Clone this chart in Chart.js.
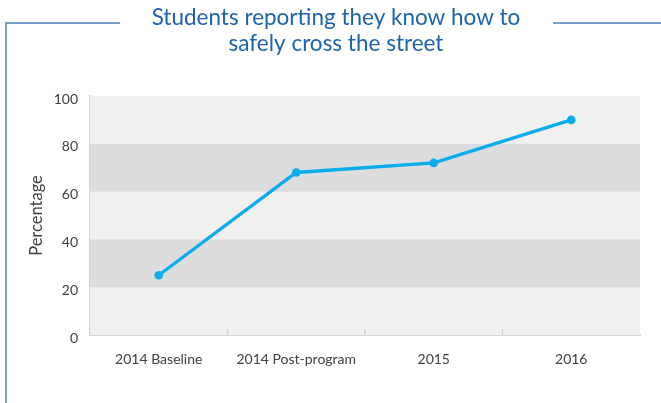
<!DOCTYPE html>
<html>
<head>
<meta charset="utf-8">
<script src="https://cdn.jsdelivr.net/npm/chart.js@4"></script>
<style>
  html, body { margin: 0; padding: 0; background: #fff; }
  #wrap { width: 661px; height: 403px; }
</style>
</head>
<body>
<div id="wrap"><canvas id="myChart" width="661" height="403"></canvas></div>
<script>
const titleLines = ["Students reporting they know how to", "safely cross the street"]
const categories = ["2014 Baseline", "2014 Post-program", "2015", "2016"]
const percentValues = [25, 68, 72, 90]
const yTicks = [0, 20, 40, 60, 80, 100]
// alternating horizontal bands behind the plot: [from, to]
const darkBands = [[20, 40], [60, 80]]

const fontFamily = "Lato, 'Open Sans', sans-serif"

// background bands + little upward tick marks on the x axis
const bandsPlugin = {
	id: 'bands',
	beforeDatasetsDraw(chart) {
		const {ctx, chartArea, scales} = chart
		const y = scales.y, x = scales.x
		ctx.save()
		ctx.fillStyle = '#f0f0f0'
		ctx.fillRect(chartArea.left, chartArea.top, chartArea.right - chartArea.left, chartArea.bottom - chartArea.top)
		ctx.fillStyle = '#dcdddf'
		darkBands.forEach(b => {
			const top = y.getPixelForValue(b[1])
			const bottom = y.getPixelForValue(b[0])
			ctx.fillRect(chartArea.left, top, chartArea.right - chartArea.left, bottom - top)
		})
		ctx.strokeStyle = '#d3d3d3'
		ctx.lineWidth = 1.5
		for (let i = 0; i < categories.length - 1; i++) {
			const px = (x.getPixelForValue(i) + x.getPixelForValue(i + 1)) / 2
			ctx.beginPath()
			ctx.moveTo(px, chartArea.bottom)
			ctx.lineTo(px, chartArea.bottom - 6)
			ctx.stroke()
		}
		ctx.restore()
	}
}

// title text with the bracket-like frame around it
const framePlugin = {
	id: 'frame',
	afterDraw(chart) {
		const {ctx, width, height} = chart
		ctx.save()
		ctx.fillStyle = '#1f63ad'
		ctx.font = "22.5px " + fontFamily
		ctx.textAlign = 'center'
		ctx.textBaseline = 'alphabetic'
		titleLines.forEach((line, i) => ctx.fillText(line, 336, 25 + i * 26))

		ctx.strokeStyle = '#4f81bd'
		ctx.lineWidth = 1.5
		ctx.beginPath()
		ctx.moveTo(6, height)
		ctx.lineTo(6, 23)
		ctx.lineTo(120, 23)
		ctx.moveTo(553, 23)
		ctx.lineTo(width, 23)
		ctx.stroke()
		ctx.restore()
	}
}

const chart = new Chart("myChart", {
	type: "line",
	data: {
		labels: categories,
		datasets: [{
			label: 'Percentage',
			data: percentValues,
			borderColor: '#0aade9',
			backgroundColor: '#0aade9',
			borderWidth: 3.3,
			pointRadius: 4.3,
			pointBorderWidth: 0,
			pointHoverRadius: 4.3,
			tension: 0,
			fill: false
		}]
	},
	options: {
		responsive: false,
		animation: false,
		layout: {padding: {top: 96, right: 21, left: 0, bottom: 0}},
		plugins: {
			legend: {display: false},
			tooltip: {enabled: false},
			title: {display: false}
		},
		scales: {
			x: {
				offset: true,
				grid: {display: false},
				border: {display: true, color: '#d6d6d6', width: 2},
				ticks: {color: '#404040', font: {family: fontFamily, size: 14}, padding: 8, maxRotation: 0},
				afterFit(scale) { scale.height = 68 }
			},
			y: {
				min: 0,
				max: 100,
				afterBuildTicks(scale) { scale.ticks = yTicks.map(v => ({value: v})) },
				grid: {display: false},
				border: {display: true, color: '#d6d6d6', width: 2},
				ticks: {color: '#404040', font: {family: fontFamily, size: 14}, padding: 4, labelOffset: 3},
				title: {
					display: true,
					text: 'Percentage',
					color: '#404040',
					font: {family: fontFamily, size: 16.5},
					padding: {top: 27, bottom: 0}
				},
				afterFit(scale) { scale.width = 90 }
			}
		}
	},
	plugins: [bandsPlugin, framePlugin]
});
</script>
</body>
</html>
